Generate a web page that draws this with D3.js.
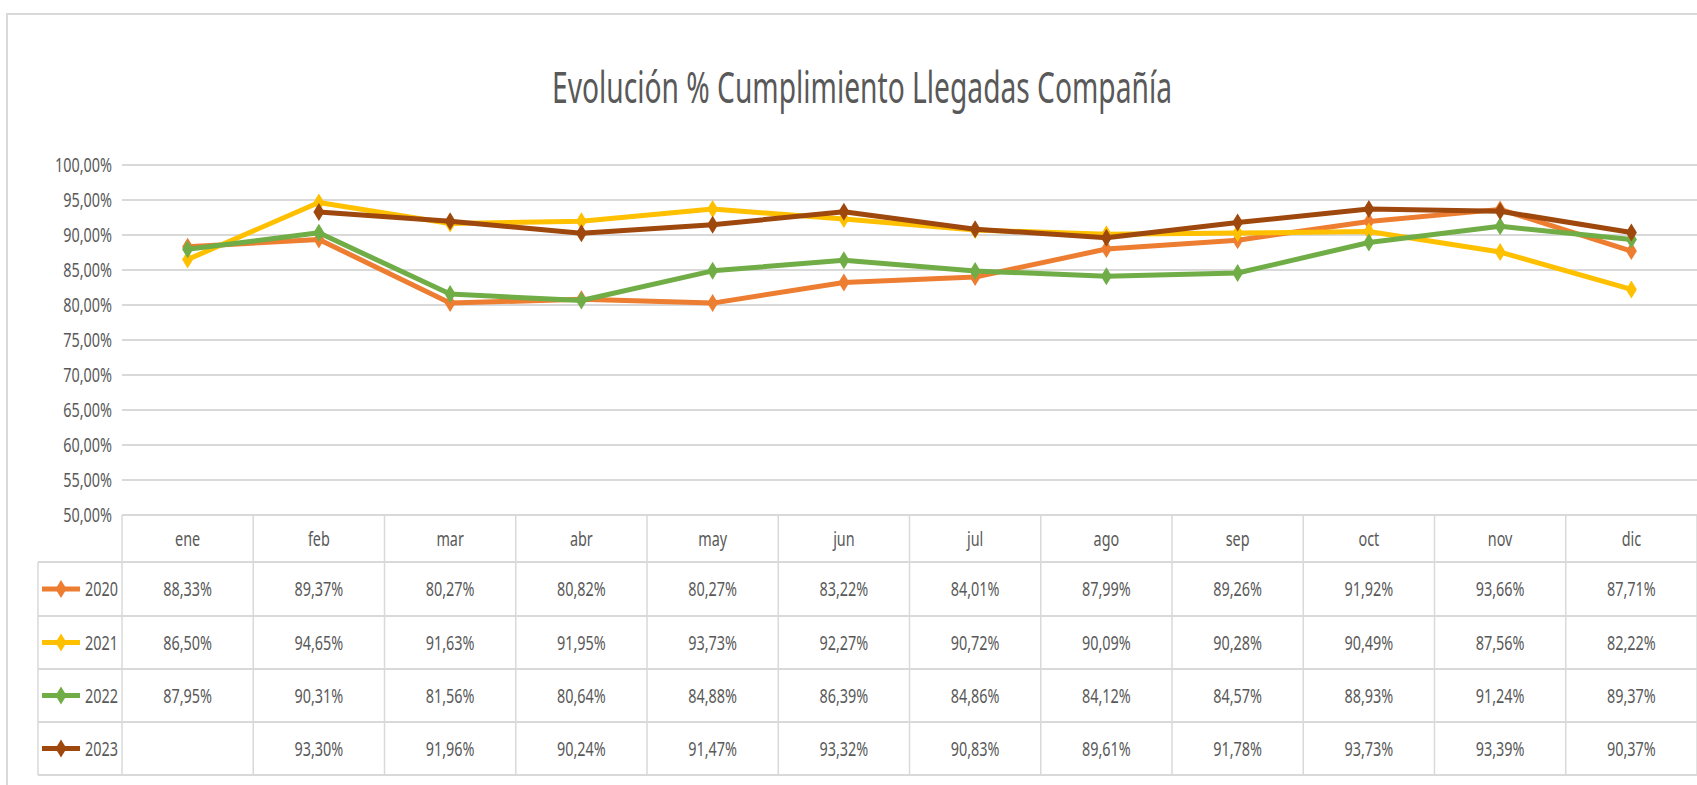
<!DOCTYPE html>
<html>
<head>
<meta charset="utf-8">
<script src="https://cdn.jsdelivr.net/npm/d3@7"></script>
<style>
  body { margin: 0; background: #fff; }
  svg { display: block; font-family: "Noto Sans", "Open Sans", sans-serif; }
</style>
</head>
<body>
<svg id="chart" width="1697" height="785"></svg>
<script>
let months = ["ene", "feb", "mar", "abr", "may", "jun", "jul", "ago", "sep", "oct", "nov", "dic"];
let years = ["2020", "2021", "2022", "2023"];
let s2020 = [88.33, 89.37, 80.27, 80.82, 80.27, 83.22, 84.01, 87.99, 89.26, 91.92, 93.66, 87.71];
let s2021 = [86.50, 94.65, 91.63, 91.95, 93.73, 92.27, 90.72, 90.09, 90.28, 90.49, 87.56, 82.22];
let s2022 = [87.95, 90.31, 81.56, 80.64, 84.88, 86.39, 84.86, 84.12, 84.57, 88.93, 91.24, 89.37];
let s2023 = [null, 93.30, 91.96, 90.24, 91.47, 93.32, 90.83, 89.61, 91.78, 93.73, 93.39, 90.37];
let yTicks = [50, 55, 60, 65, 70, 75, 80, 85, 90, 95, 100];
let colors = ["#ED7D31", "#FFC000", "#70AD47", "#9E480E"];

let series = [s2020, s2021, s2022, s2023].map((vals, i) => ({ name: years[i], values: vals, color: colors[i] }));

const SX = 0.72; // text in the picture is narrow
const textColor = "#595959";
const gridColor = "#d9d9d9";

let svg = d3.select("#chart");

let plotLeft = 122, plotRight = 1697, plotTop = 165, plotBottom = 515;
let rowH = [47, 54, 53, 53, 53];

let x = d3.scaleBand().domain(months).range([plotLeft, plotRight]);
let y = d3.scaleLinear().domain([50, 100]).range([plotBottom, plotTop]);

let pct = d3.formatLocale({ decimal: ",", thousands: ".", grouping: [3], currency: ["", "€"] }).format(".2f");
let fmt = v => pct(v) + "%";

function squeeze(sel, fx, fy) {
  sel.attr("transform", (d, i) => `translate(${fx(d, i)},${fy(d, i)}) scale(${SX},1)`);
}

// chart frame
svg.append("rect")
  .attr("x", 7).attr("y", 14).attr("width", 1710).attr("height", 790)
  .attr("fill", "#fff").attr("stroke", "#d9d9d9").attr("stroke-width", 2);

// title
svg.append("text")
  .attr("x", 862).attr("y", 103)
  .attr("text-anchor", "middle")
  .attr("font-size", 44)
  .attr("fill", textColor)
  .attr("textLength", 620)
  .attr("lengthAdjust", "spacingAndGlyphs")
  .text("Evolución % Cumplimiento Llegadas Compañía");

// gridlines
svg.append("g").selectAll("line")
  .data(yTicks)
  .join("line")
  .attr("x1", plotLeft).attr("x2", plotRight)
  .attr("y1", d => y(d)).attr("y2", d => y(d))
  .attr("stroke", gridColor).attr("stroke-width", 2);

// y axis labels
let yAxis = svg.append("g")
  .attr("transform", `translate(${plotLeft - 10},0)`)
  .call(d3.axisLeft(y).tickValues(yTicks).tickFormat(fmt).tickSize(0).tickPadding(0));
yAxis.select(".domain").remove();
yAxis.selectAll("text")
  .attr("fill", textColor)
  .attr("font-size", 20)
  .attr("font-family", "Noto Sans")
  .attr("x", 0)
  .attr("transform", `scale(${SX},1)`);

// table
let rowTop = [plotBottom];
rowH.forEach(h => rowTop.push(rowTop[rowTop.length - 1] + h));
let table = svg.append("g");

table.selectAll(".hline")
  .data(rowTop)
  .join("line")
  .attr("class", "hline")
  .attr("x1", (d, i) => i === 0 ? plotLeft : 38).attr("x2", plotRight)
  .attr("y1", d => d).attr("y2", d => d)
  .attr("stroke", gridColor).attr("stroke-width", 2);

table.selectAll(".vline")
  .data(months.map(m => x(m)).concat([plotRight]))
  .join("line")
  .attr("class", "vline")
  .attr("x1", d => d).attr("x2", d => d)
  .attr("y1", plotBottom).attr("y2", rowTop[rowTop.length - 1])
  .attr("stroke", gridColor).attr("stroke-width", 1.5);

table.append("line")
  .attr("x1", 38).attr("x2", 38)
  .attr("y1", rowTop[1]).attr("y2", rowTop[rowTop.length - 1])
  .attr("stroke", gridColor).attr("stroke-width", 1.5);

// month header
table.selectAll(".month")
  .data(months)
  .join("text")
  .attr("class", "month")
  .attr("font-size", 20)
  .attr("fill", textColor)
  .attr("text-anchor", "middle")
  .attr("dy", "0.35em")
  .text(d => d)
  .call(squeeze, d => x(d) + x.bandwidth() / 2, () => (rowTop[0] + rowTop[1]) / 2);

let diamond = (cx, cy) => `M${cx},${cy - 9}L${cx + 5.5},${cy}L${cx},${cy + 9}L${cx - 5.5},${cy}Z`;

// rows with legend key and values
series.forEach((s, r) => {
  let cy = (rowTop[r + 1] + rowTop[r + 2]) / 2;
  let row = table.append("g");

  row.append("line")
    .attr("x1", 42).attr("x2", 80).attr("y1", cy).attr("y2", cy)
    .attr("stroke", s.color).attr("stroke-width", 5);
  row.append("path").attr("d", diamond(61, cy)).attr("fill", s.color);

  row.append("text")
    .attr("font-size", 20)
    .attr("fill", textColor)
    .attr("text-anchor", "end")
    .attr("dy", "0.35em")
    .text(s.name)
    .call(squeeze, () => 118, () => cy);

  row.selectAll(".val")
    .data(s.values.map((v, i) => ({ v: v, m: months[i] })).filter(d => d.v !== null))
    .join("text")
    .attr("class", "val")
    .attr("font-size", 20)
    .attr("fill", textColor)
    .attr("text-anchor", "middle")
    .attr("dy", "0.35em")
    .text(d => fmt(d.v))
    .call(squeeze, d => x(d.m) + x.bandwidth() / 2, () => cy);
});

// lines and markers
let line = d3.line()
  .defined(d => d.v !== null)
  .x(d => x(d.m) + x.bandwidth() / 2)
  .y(d => y(d.v));

let lines = svg.append("g");
series.forEach(s => {
  let pts = s.values.map((v, i) => ({ v: v, m: months[i] }));
  lines.append("path")
    .datum(pts)
    .attr("d", line)
    .attr("fill", "none")
    .attr("stroke", s.color)
    .attr("stroke-width", 5)
    .attr("stroke-linejoin", "round");
  lines.append("g").selectAll("path")
    .data(pts.filter(d => d.v !== null))
    .join("path")
    .attr("d", d => diamond(x(d.m) + x.bandwidth() / 2, y(d.v)))
    .attr("fill", s.color);
});
</script>
</body>
</html>
